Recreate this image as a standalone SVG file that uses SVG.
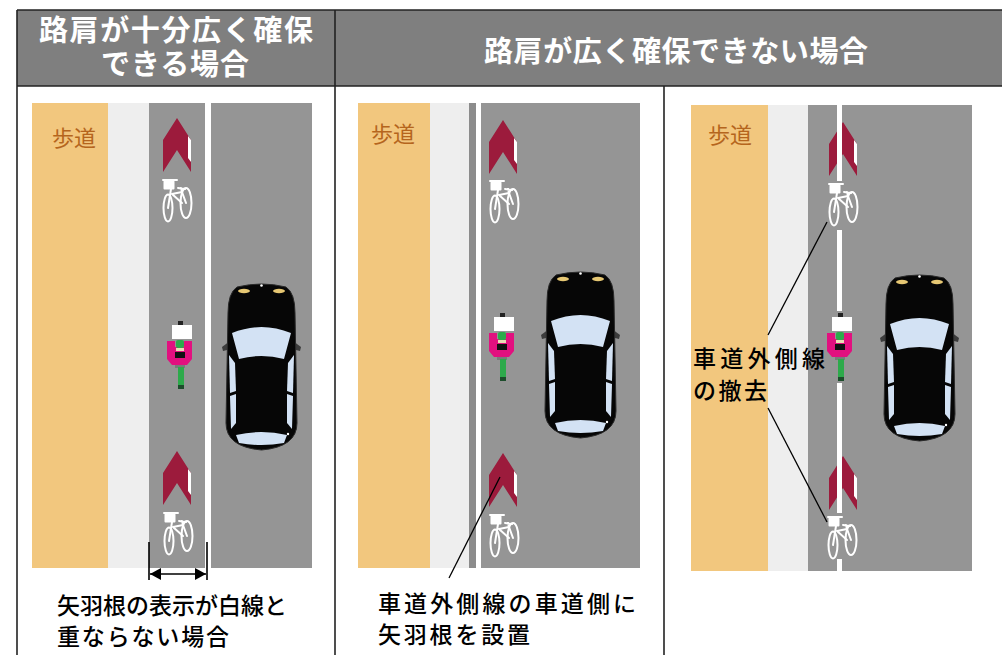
<svg xmlns="http://www.w3.org/2000/svg" width="1002" height="655" viewBox="0 0 1002 655">
  <style>
    .hdr { fill: #7f7f7f; }
    .rule { stroke: #222; stroke-width: 1.6; fill: none; }
    .htext { font-family: "Noto Sans CJK JP", "Liberation Sans", sans-serif; font-weight: bold; font-size: 29px; fill: #ffffff; text-anchor: middle; }
    .walk { fill: #f2c77e; }
    .shoulder { fill: #eeeeee; }
    .road { fill: #959595; }
    .paint { fill: #ffffff; }
    .hodo { font-family: "Noto Sans CJK JP", "Liberation Sans", sans-serif; font-size: 22px; fill: #b5651d; }
    .note { font-family: "Noto Sans CJK JP", "Liberation Sans", sans-serif; font-weight: 500; font-size: 23px; fill: #000000; }
    .lead { stroke: #000; stroke-width: 1.3; fill: none; }
    .dim { stroke: #000; stroke-width: 1.6; fill: none; }
  </style>
  <defs>
    <!-- bicycle lane chevron -->
    <symbol id="chevron" overflow="visible">
      <path d="M14,0 L28,22 L28,54 L14,32 L0,54 L0,22 Z" fill="#9c1b3c"/>
      <path d="M25,18 L28,22 L28,44 L25,40 Z" fill="#ffffff"/>
    </symbol>
    <!-- bicycle pictogram -->
    <symbol id="bike" overflow="visible">
      <g stroke="#ffffff" stroke-width="2" fill="none" stroke-linecap="round" stroke-linejoin="round">
        <line x1="0" y1="0" x2="14" y2="0"/>
        <rect x="1.5" y="1.5" width="9" height="7" fill="#ffffff"/>
        <ellipse cx="5" cy="28" rx="4.5" ry="13.5"/>
        <ellipse cx="23" cy="23" rx="5.5" ry="15"/>
        <path d="M8,9 L5,28 M9,14 L19,12 L23,23 M9,14 L19,23 M19,12 L18,8 M15,8 L22,9"/>
      </g>
    </symbol>
    <!-- cyclist seen from above -->
    <symbol id="cyclist" overflow="visible">
      <rect x="11" y="0" width="5" height="4" fill="#222"/>
      <rect x="5" y="4" width="20" height="14" fill="#ffffff"/>
      <path d="M0,20 L8,20 L8,26 L17,26 L17,20 L25,20 L25,38 L20,44 L5,44 L0,38 Z" fill="#e2107f"/>
      <rect x="9" y="19" width="8" height="8" rx="2" fill="#2daa4b"/>
      <rect x="9" y="27" width="8" height="3" fill="#e9ddb5"/>
      <rect x="8" y="31" width="10" height="6" fill="#111111"/>
      <rect x="8" y="44" width="10" height="3" fill="#7a7a7a"/>
      <rect x="11" y="46" width="6" height="18" fill="#2daa4b"/>
      <rect x="11" y="64" width="6" height="4" fill="#1d4d2c"/>
    </symbol>
    <!-- car seen from above -->
    <symbol id="car" overflow="visible">
      <path d="M-3,64 L5,58 L6,66 L-2,68 Z" fill="#3c3c3c"/>
      <path d="M76,64 L68,58 L67,66 L75,68 Z" fill="#3c3c3c"/>
      <path d="M12,4 Q36.5,-2 61,4 Q70,10 70,30 L72,140 Q72,164 36.5,167 Q1,164 1,140 L3,30 Q3,10 12,4 Z" fill="#060606" stroke="#2a2a2a" stroke-width="1"/>
      <ellipse cx="19" cy="8" rx="6" ry="2.2" fill="#e6c773"/>
      <ellipse cx="54" cy="8" rx="6" ry="2.2" fill="#e6c773"/>
      <circle cx="36.5" cy="2.5" r="1.3" fill="#ffffff"/>
      <path d="M7,50 Q36.5,38 66,50 L59,76 Q36.5,70 14,76 Z" fill="#d3e2f4"/>
      <path d="M4,72 L10,80 L11,108 L5,110 Z" fill="#d3e2f4"/>
      <path d="M5,113 L11,111 L11,140 L6,146 Z" fill="#d3e2f4"/>
      <path d="M69,72 L63,80 L62,108 L68,110 Z" fill="#d3e2f4"/>
      <path d="M68,113 L62,111 L62,140 L67,146 Z" fill="#d3e2f4"/>
      <path d="M11,152 Q36.5,146 62,152 L59,160 Q36.5,164 14,160 Z" fill="#d3e2f4"/>
      <circle cx="63" cy="151" r="1.2" fill="#ffffff"/>
    </symbol>
    <marker id="dimhead" viewBox="0 0 11 12" refX="11" refY="6" markerWidth="11" markerHeight="12" markerUnits="userSpaceOnUse" orient="auto-start-reverse">
      <path d="M0,0 L11,6 L0,12 Z" fill="#000"/>
    </marker>
  </defs>

  <rect x="0" y="0" width="1002" height="655" fill="#ffffff"/>

  <!-- table header -->
  <g id="header">
    <rect class="hdr" x="17" y="10" width="985" height="76"/>
    <text class="htext" x="176" y="41" textLength="274" lengthAdjust="spacing">路肩が十分広く確保</text>
    <text class="htext" x="175" y="75" textLength="148" lengthAdjust="spacing">できる場合</text>
    <text class="htext" x="676" y="62" textLength="384" lengthAdjust="spacing">路肩が広く確保できない場合</text>
  </g>
  <g id="table-rules">
    <line class="rule" x1="17" y1="10" x2="1002" y2="10"/>
    <line class="rule" x1="17" y1="86" x2="1002" y2="86"/>
    <line class="rule" x1="17" y1="10" x2="17" y2="655"/>
    <line class="rule" x1="335" y1="10" x2="335" y2="655"/>
    <line class="rule" x1="664" y1="86" x2="664" y2="655"/>
  </g>

  <!-- case 1: wide shoulder -->
  <g id="panel-1">
    <rect class="walk" x="32" y="103" width="76" height="465"/>
    <rect class="shoulder" x="108" y="103" width="41" height="465"/>
    <rect class="road" x="149" y="103" width="163" height="465"/>
    <rect class="paint" x="205" y="103" width="6" height="465"/>
    <text class="hodo" x="52" y="146">歩道</text>
    <use id="p1-chevron-a" href="#chevron" x="163" y="118"/>
    <use id="p1-bike-a" href="#bike" x="163" y="180"/>
    <use id="p1-cyclist" href="#cyclist" x="167" y="321"/>
    <use id="p1-car" href="#car" x="225" y="283"/>
    <use id="p1-chevron-b" href="#chevron" x="163" y="451"/>
    <use id="p1-bike-b" href="#bike" x="164" y="513"/>
    <text class="note" x="57" y="614" textLength="230" lengthAdjust="spacing">矢羽根の表示が白線と</text>
    <text class="note" x="57" y="645" textLength="172" lengthAdjust="spacing">重ならない場合</text>
  </g>

  <!-- case 2: chevrons on the carriageway side of the edge line -->
  <g id="panel-2">
    <rect class="walk" x="358" y="103" width="72" height="465"/>
    <rect class="shoulder" x="430" y="103" width="39" height="465"/>
    <rect x="469" y="103" width="7" height="465" fill="#8c8c8c"/>
    <rect class="paint" x="476" y="103" width="5" height="465"/>
    <rect class="road" x="481" y="103" width="159" height="465"/>
    <text class="hodo" x="371" y="142">歩道</text>
    <use id="p2-chevron-a" href="#chevron" x="489" y="120"/>
    <use id="p2-bike-a" href="#bike" x="490" y="181"/>
    <use id="p2-cyclist" href="#cyclist" x="489" y="313"/>
    <use id="p2-car" href="#car" x="544" y="271"/>
    <use id="p2-chevron-b" href="#chevron" x="489" y="453"/>
    <use id="p2-bike-b" href="#bike" x="490" y="515"/>
    <text class="note" x="378" y="612" textLength="258" lengthAdjust="spacing">車道外側線の車道側に</text>
    <text class="note" x="378" y="643" textLength="152" lengthAdjust="spacing">矢羽根を設置</text>
  </g>

  <!-- case 3: edge line removed -->
  <g id="panel-3">
    <rect class="walk" x="691" y="105" width="77" height="466"/>
    <rect class="shoulder" x="768" y="105" width="40" height="466"/>
    <rect class="road" x="808" y="105" width="164" height="466"/>
    <text class="hodo" x="708" y="143">歩道</text>
    <use id="p3-chevron-a" href="#chevron" x="829" y="122"/>
    <use id="p3-chevron-b" href="#chevron" x="829" y="456"/>
    <g id="p3-edge-line">
      <rect class="paint" x="837" y="105" width="5" height="76"/>
      <rect class="paint" x="837" y="230" width="5" height="81"/>
      <rect class="paint" x="837" y="383" width="5" height="130"/>
      <rect class="paint" x="837" y="559" width="5" height="12"/>
    </g>
    <use id="p3-bike-a" href="#bike" x="829" y="184"/>
    <use id="p3-cyclist" href="#cyclist" x="827" y="313"/>
    <use id="p3-car" href="#car" x="883" y="274"/>
    <use id="p3-bike-b" href="#bike" x="828" y="517"/>
    <text class="note" x="693" y="367" textLength="132" lengthAdjust="spacing">車道外側線</text>
    <text class="note" x="693" y="399" textLength="74" lengthAdjust="spacing">の撤去</text>
  </g>

  <!-- leader lines and dimension -->
  <g id="connectors">
    <line class="lead" x1="449" y1="578" x2="500" y2="477"/>
    <line class="lead" x1="768" y1="335" x2="827" y2="222"/>
    <line class="lead" x1="768" y1="408" x2="827" y2="522"/>
    <line class="dim" x1="149" y1="542" x2="149" y2="580"/>
    <line class="dim" x1="207" y1="542" x2="207" y2="580"/>
    <line class="dim" x1="150" y1="574" x2="206" y2="574" marker-start="url(#dimhead)" marker-end="url(#dimhead)"/>
  </g>
</svg>
